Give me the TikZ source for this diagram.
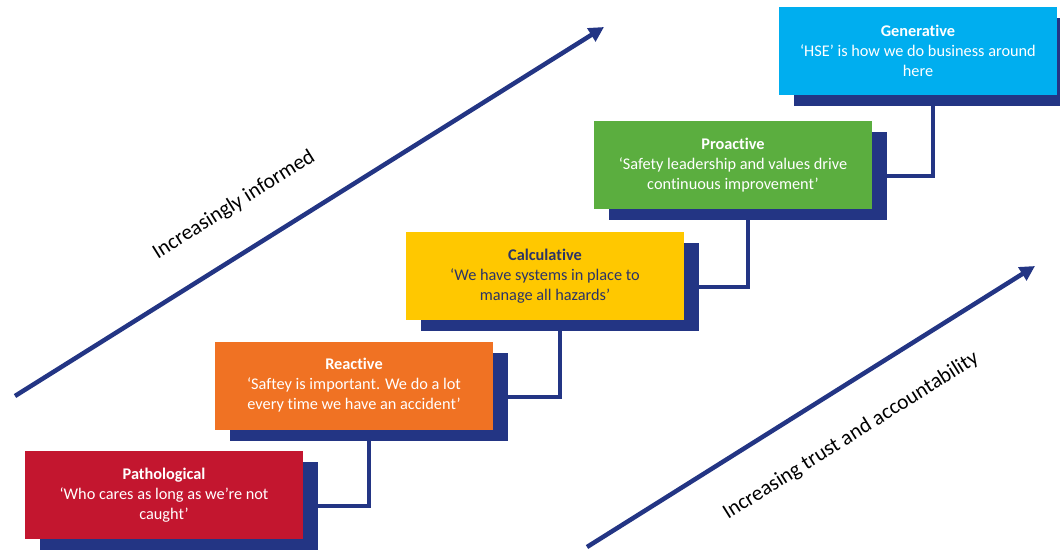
\documentclass[tikz,border=0pt]{standalone}
\usepackage{fontspec}
\setmainfont{Carlito}[Ligatures=NoCommon]
\usetikzlibrary{arrows.meta,calc}

\definecolor{navy}{HTML}{233584}
\definecolor{patred}{HTML}{C3162F}
\definecolor{reaorange}{HTML}{F07223}
\definecolor{calyellow}{HTML}{FFC800}
\definecolor{progreen}{HTML}{5BAE3F}
\definecolor{gencyan}{HTML}{00AEEF}
\definecolor{caltext}{HTML}{2B3467}

\begin{document}
\begin{tikzpicture}[x=1pt, y=-1pt,
    every node/.style={font=\fontsize{16.3}{20}\selectfont},
    stepbox/.style={rectangle, minimum width=278pt, minimum height=88pt,
        inner sep=0pt, align=center, text=white},
    backbox/.style={stepbox, fill=navy},
    link/.style={draw=navy, line width=4pt},
    trend/.style={draw=navy, line width=4.5pt, -{Triangle[length=15pt,width=15pt]}},
    axislabel/.style={font=\fontsize{21.3}{24}\selectfont, rotate=32.1}]
    \useasboundingbox (0,0) rectangle (1060,552);
    \clip (0,0) rectangle (1060,552);
    % shadows behind the steps
    \node[backbox] (patS) at (179,506) {};
    \node[backbox] (reaS) at (369,396.5) {};
    \node[backbox] (calS) at (560,287) {};
    \node[backbox] (proS) at (748,176) {};
    \node[backbox] (genS) at (933,62) {};
    % connectors between the steps
    \draw[link] (patS.east) -| (reaS.south);
    \draw[link] (reaS.east) -| (calS.south);
    \draw[link] (calS.east) -| (proS.south);
    \draw[link] (proS.east) -| (genS.south);
    % the steps
    \node[stepbox, fill=patred] (pat) at (164,495)
        {\textbf{Pathological}\\‘Who cares as long as we’re not\\caught’};
    \node[stepbox, fill=reaorange] (rea) at (354,385.5)
        {\textbf{Reactive}\\‘Saftey is important. We do a lot\\every time we have an accident’};
    \node[stepbox, fill=calyellow, text=caltext] (cal) at (545,276)
        {\textbf{Calculative}\\‘We have systems in place to\\manage all hazards’};
    \node[stepbox, fill=progreen] (pro) at (733,165)
        {\textbf{Proactive}\\‘Safety leadership and values drive\\continuous improvement’};
    \node[stepbox, fill=gencyan] (gen) at (918,51)
        {\textbf{Generative}\\‘HSE’ is how we do business around\\here};
    % trend arrows
    \coordinate (infoA) at (15,396);
    \coordinate (infoB) at (604,27);
    \coordinate (trustA) at (587,547);
    \coordinate (trustB) at (1035,266);
    \draw[trend] (infoA) -- (infoB);
    \draw[trend] (trustA) -- (trustB);
    \node[axislabel] (info) at (234,205) {Increasingly informed};
    \node[axislabel] (trust) at (851,436) {Increasing trust and accountability};
\end{tikzpicture}
\end{document}
